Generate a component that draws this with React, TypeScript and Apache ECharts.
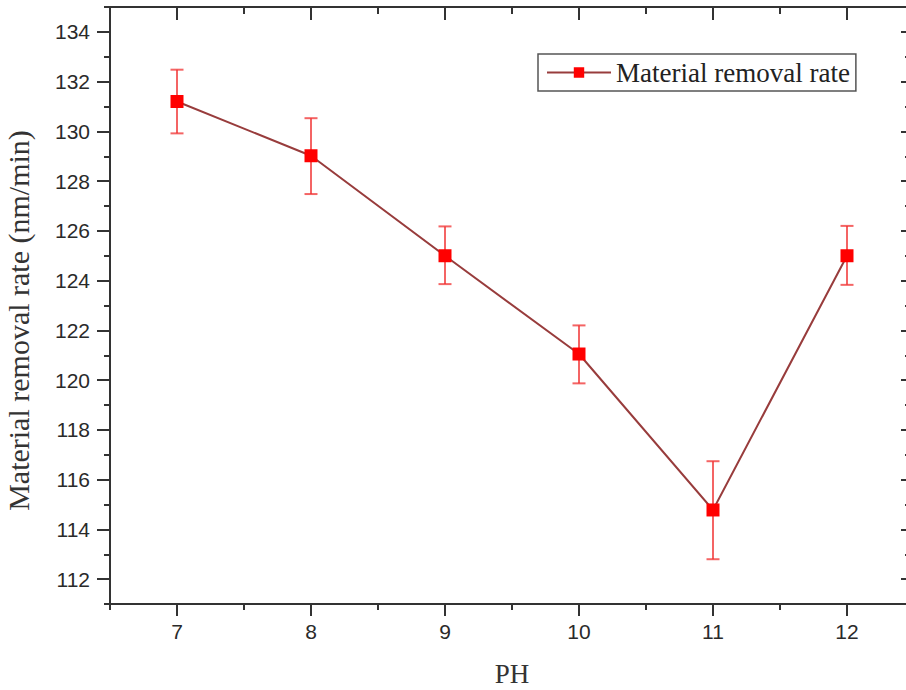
import React, { useEffect, useRef } from "react";
import * as echarts from "echarts";

const phValues = [7, 8, 9, 10, 11, 12];
const removalRate = [131.2, 129.02, 125.0, 121.05, 114.78, 125.0];
const errorUpper = [132.48, 130.53, 126.18, 122.2, 116.74, 126.2];
const errorLower = [129.92, 127.48, 123.86, 119.87, 112.8, 123.83];
const xTickLabels = [7, 8, 9, 10, 11, 12];
const yTickLabels = [112, 114, 116, 118, 120, 122, 124, 126, 128, 130, 132, 134];
const seriesName = "Material removal rate";
const xTitle = "PH";
const yTitle = "Material removal rate (nm/min)";

const AXIS = "#333";
const SANS = "Liberation Sans, Arial, sans-serif";
const SERIF = "Liberation Serif, Times New Roman, serif";

export default function App() {
  const ref = useRef<HTMLDivElement>(null);
  useEffect(() => {
    if (!ref.current) return;
    const chart = echarts.init(ref.current, undefined, { renderer: "svg" });
    const lineStyle = { color: AXIS, width: 2 };
    const hidden = { show: false };
    const option: any = {
      animation: false,
      backgroundColor: "#fff",
      grid: { left: 110, top: 7, width: 804, height: 597, containLabel: false, outerBoundsMode: "none" },
      legend: {
        data: [seriesName],
        left: 538,
        top: 54,
        orient: "horizontal",
        padding: [5, 6, 5, 8],
        borderColor: "#555",
        borderWidth: 1.5,
        itemWidth: 64,
        itemHeight: 13,
        textStyle: { fontFamily: SERIF, fontSize: 27, color: "#222" },
      },
      xAxis: [
        {
          type: "value", min: 6.5, max: 12.5, position: "bottom",
          name: xTitle, nameLocation: "middle", nameGap: 56,
          nameTextStyle: { fontFamily: SERIF, fontSize: 27, color: "#333" },
          axisLine: { show: true, onZero: false, lineStyle },
          axisTick: { show: true, customValues: xTickLabels, length: 12, lineStyle },
          axisLabel: { show: true, customValues: xTickLabels, fontFamily: SANS, fontSize: 21, color: "#2a2a2a", margin: 17 },
          splitLine: hidden,
        },
        {
          type: "value", min: 6.5, max: 12.5, interval: 0.5, position: "bottom",
          axisLine: hidden, axisLabel: hidden, splitLine: hidden,
          axisTick: { show: true, length: 6, lineStyle },
        },
        {
          type: "value", min: 6.5, max: 12.5, position: "top",
          axisLine: { show: true, onZero: false, lineStyle },
          axisTick: { show: true, inside: true, customValues: xTickLabels, length: 13, lineStyle },
          axisLabel: hidden, splitLine: hidden,
        },
        {
          type: "value", min: 6.5, max: 12.5, interval: 0.5, position: "top",
          axisLine: hidden, axisLabel: hidden, splitLine: hidden,
          axisTick: { show: true, inside: true, length: 7, lineStyle },
        },
      ],
      yAxis: [
        {
          type: "value", min: 111, max: 135, position: "left",
          name: yTitle, nameLocation: "middle", nameGap: 77,
          nameTextStyle: { fontFamily: SERIF, fontSize: 30, color: "#333", padding: [0, 30, 0, 0] },
          axisLine: { show: true, onZero: false, lineStyle },
          axisTick: { show: true, customValues: yTickLabels, length: 13, lineStyle },
          axisLabel: { show: true, customValues: yTickLabels, fontFamily: SANS, fontSize: 21, color: "#2a2a2a", margin: 20 },
          splitLine: hidden,
        },
        {
          type: "value", min: 111, max: 135, interval: 1, position: "left",
          axisLine: hidden, axisLabel: hidden, splitLine: hidden,
          axisTick: { show: true, length: 6, lineStyle },
        },
        {
          type: "value", min: 111, max: 135, position: "right",
          axisLine: { show: false },
          axisTick: { show: true, inside: true, customValues: yTickLabels, length: 13, lineStyle },
          axisLabel: hidden, splitLine: hidden,
        },
        {
          type: "value", min: 111, max: 135, interval: 1, position: "right",
          axisLine: hidden, axisLabel: hidden, splitLine: hidden,
          axisTick: { show: true, inside: true, length: 9, lineStyle },
        },
      ],
      series: [
        {
          type: "custom",
          name: "error",
          xAxisIndex: 0,
          yAxisIndex: 0,
          z: 2,
          encode: { x: 0, y: [1, 2] },
          data: phValues.map((x, i) => [x, errorLower[i], errorUpper[i]]),
          renderItem: (params: any, api: any) => {
            const x = api.value(0);
            const lo = api.coord([x, api.value(1)]);
            const hi = api.coord([x, api.value(2)]);
            const hw = 6.5;
            const style = { stroke: "#f03030", lineWidth: 2, opacity: 0.75 };
            return {
              type: "group",
              children: [
                { type: "line", shape: { x1: lo[0], y1: lo[1], x2: hi[0], y2: hi[1] }, style },
                { type: "line", shape: { x1: lo[0] - hw, y1: lo[1], x2: lo[0] + hw, y2: lo[1] }, style },
                { type: "line", shape: { x1: hi[0] - hw, y1: hi[1], x2: hi[0] + hw, y2: hi[1] }, style },
              ],
            };
          },
        },
        {
          type: "line",
          name: seriesName,
          xAxisIndex: 0,
          yAxisIndex: 0,
          z: 3,
          data: phValues.map((x, i) => [x, removalRate[i]]),
          symbol: "rect",
          symbolSize: 13,
          showAllSymbol: true,
          itemStyle: { color: "#ff0000", opacity: 1 },
          lineStyle: { color: "#983c3c", width: 2 },
        },
      ],
    };
    chart.setOption(option);
    return () => chart.dispose();
  }, []);
  return (
    <div
      ref={ref}
      style={{ position: "fixed", left: 0, top: 0, width: 906, height: 690, background: "#fff" }}
    />
  );
}
